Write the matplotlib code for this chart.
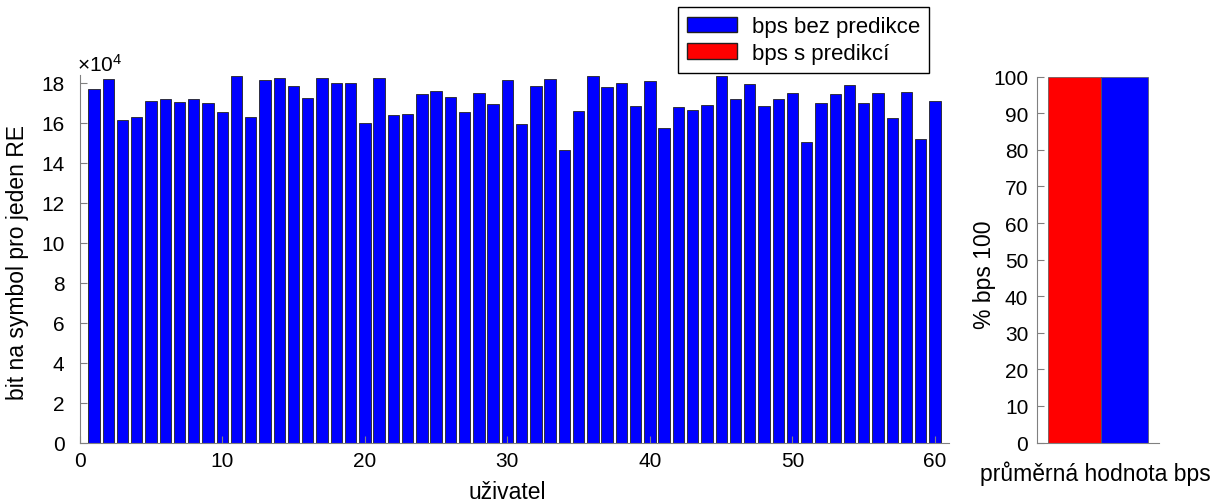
import matplotlib
matplotlib.use('Agg')
from matplotlib import pyplot as plt
from matplotlib.patches import Patch

plt.rcParams['font.family'] = ['Liberation Sans', 'DejaVu Sans']
plt.rcParams['mathtext.fontset'] = 'custom'
plt.rcParams['mathtext.rm'] = 'Liberation Sans'

# bit na symbol pro kazdeho uzivatele (v jednotkach 10^4)
users = list(range(1, 61))
bps_bez = [17.70, 18.18, 16.15, 16.28, 17.08, 17.18, 17.05, 17.18, 17.02, 16.55,
           18.33, 16.32, 18.15, 18.27, 17.87, 17.23, 18.23, 18.00, 18.00, 15.98,
           18.23, 16.40, 16.47, 17.43, 17.58, 17.32, 16.55, 17.52, 16.97, 18.15,
           15.97, 17.83, 18.20, 14.65, 16.60, 18.33, 17.78, 17.98, 16.87, 18.10,
           15.73, 16.78, 16.65, 16.92, 18.33, 17.20, 17.97, 16.87, 17.20, 17.52,
           15.05, 16.98, 17.43, 17.88, 16.98, 17.48, 16.25, 17.55, 15.18, 17.10]

# prumerna hodnota v procentech
pct_s = 100
pct_bez = 100

W, H = 1231, 502
fig = plt.figure(figsize=(W / 100, H / 100), dpi=100)

spine_c = '#808080'
lab_fs = 16.5

# levy graf
ax = fig.add_axes([79.7 / W, 1 - 444 / H, 869.6 / W, 368 / H])
ax.bar(users, bps_bez, width=0.8, color='#0000ff', edgecolor='#222222', linewidth=0.6)
ax.set_xlim(0, 61)
ax.set_ylim(0, 18.4)
ax.set_xticks(range(0, 61, 10))
ax.set_yticks(range(0, 19, 2))
for s in ['top', 'right']:
    ax.spines[s].set_visible(False)
for s in ['left', 'bottom']:
    ax.spines[s].set_color(spine_c)
ax.tick_params(direction='in', length=5, color=spine_c, labelsize=15)
ax.tick_params(axis='y', pad=11)
ax.tick_params(axis='x', pad=5.5)
ax.text(-0.003, 1.0, r'$\mathregular{\times10^{4}}$', transform=ax.transAxes,
        ha='left', va='bottom', fontsize=15)

fig.text(507.5 / W, 1 - 499 / H, 'uživatel', fontsize=lab_fs, ha='center', va='baseline')
fig.text(18 / W, 1 - 262 / H, 'bit na symbol pro jeden RE', fontsize=lab_fs,
         ha='center', va='center', rotation=90)

# pravy graf
ax2 = fig.add_axes([1036.7 / W, 1 - 443.5 / H, 122.3 / W, 365.8 / H])
ax2.bar(0.09, pct_s, width=0.436, align='edge', color='#ff0000', edgecolor='#555555', linewidth=0.5)
ax2.bar(0.526, pct_bez, width=0.386, align='edge', color='#0000ff', edgecolor='#555555', linewidth=0.5)
ax2.set_xlim(0, 1)
ax2.set_ylim(0, 100)
ax2.set_xticks([])
ax2.set_yticks(range(0, 101, 10))
for s in ['top', 'right']:
    ax2.spines[s].set_visible(False)
for s in ['left', 'bottom']:
    ax2.spines[s].set_color(spine_c)
ax2.tick_params(direction='in', length=5, color=spine_c, labelsize=15, pad=6)

fig.text(1095.5 / W, 1 - 481 / H, 'průměrná hodnota bps', fontsize=lab_fs,
         ha='center', va='baseline')
fig.text(985 / W, 1 - 275 / H, '% bps 100', fontsize=lab_fs,
         ha='center', va='center', rotation=90)

# legenda
handles = [Patch(facecolor='#0000ff', edgecolor='#202020', label='bps bez predikce'),
           Patch(facecolor='#ff0000', edgecolor='#202020', label='bps s predikcí')]
leg = fig.legend(handles=handles, loc='upper left', bbox_to_anchor=(678.3 / W, 1 - 8.3 / H),
                 fontsize=16, fancybox=False, edgecolor='black', framealpha=1,
                 handlelength=2.25, handleheight=0.68, handletextpad=0.66,
                 borderaxespad=0, borderpad=0.4, labelspacing=0.25)
leg.get_frame().set_linewidth(1.0)

fig.savefig('out.png', dpi=100)
